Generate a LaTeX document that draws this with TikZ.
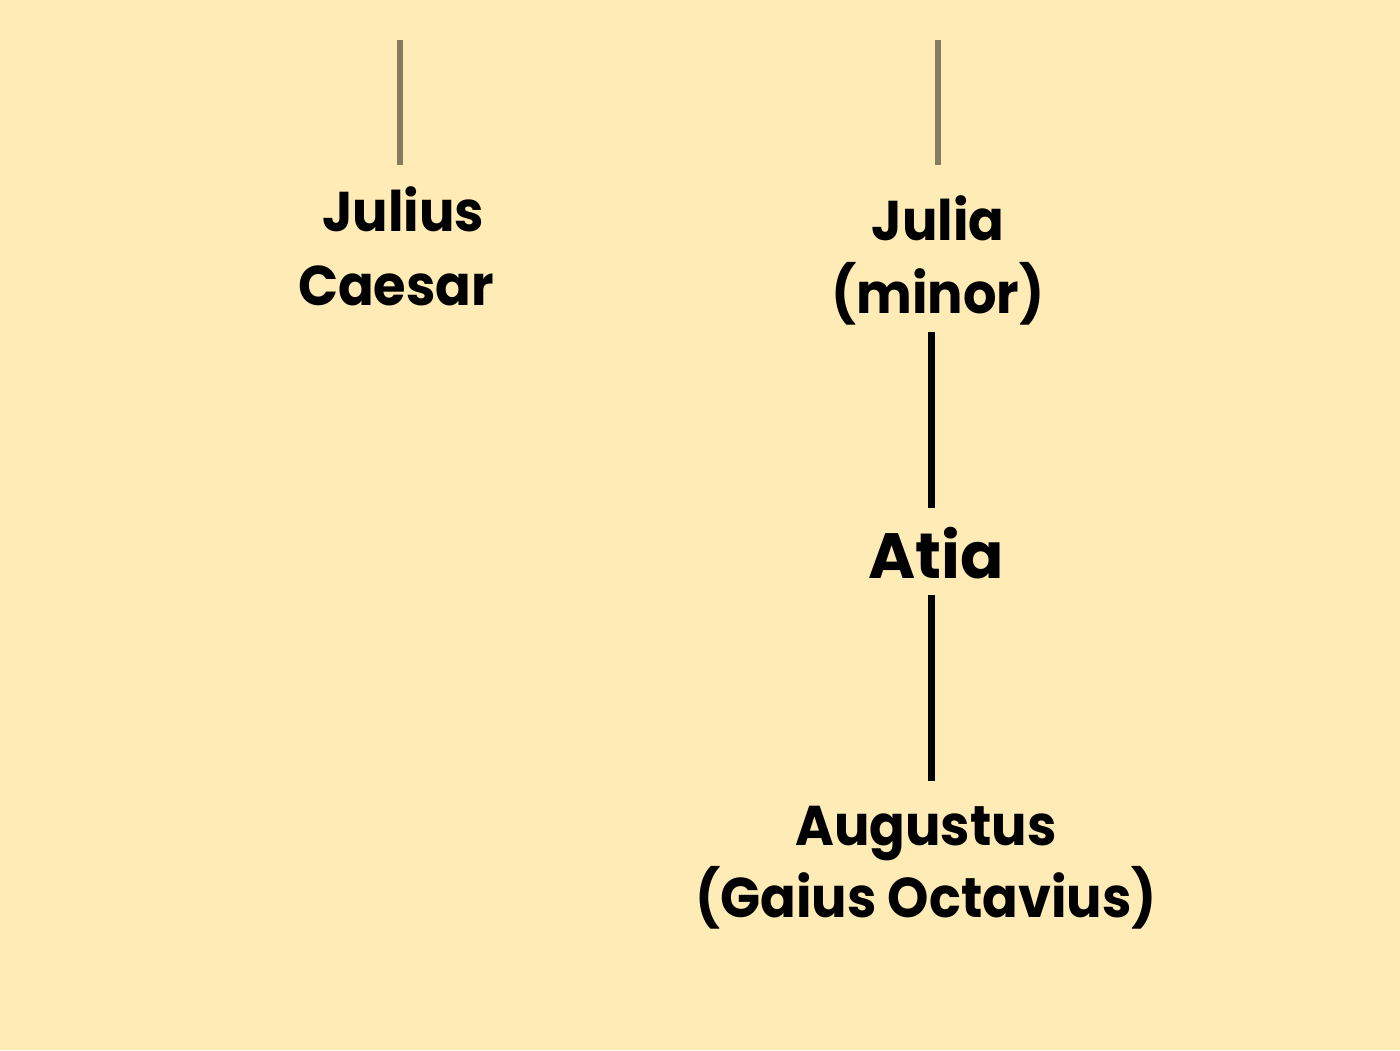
\documentclass[tikz,border=0pt]{standalone}
\usepackage{fontspec}
\setmainfont{Poppins}[UprightFont=* SemiBold,BoldFont=* Bold]
\definecolor{bg}{HTML}{FEEBB5}
\definecolor{topline}{HTML}{857B5E}
\begin{document}
\begin{tikzpicture}[x=1pt,y=-1pt,
  person/.style={font=\fontsize{56}{70}\selectfont\bfseries, inner sep=0pt, anchor=base, xscale=0.94, transform shape},
  bigperson/.style={font=\fontsize{64}{70}\selectfont\bfseries, inner sep=0pt, anchor=base},
  upline/.style={draw=topline, line width=6pt},
  kin/.style={draw=black, line width=7pt}]
\fill[bg] (0,0) rectangle (1400,1050);
\useasboundingbox (0,0) rectangle (1400,1050);
% names
\node[person] (jc1) at (403,231) {Julius};
\node[person] (jc2) at (396,305) {Caesar};
\node[person] (jm1) at (938,240) {Julia};
\node[person] (jm2) at (938,313) {(minor)};
\node[bigperson] (atia) at (936,578) {Atia};
\node[person] (au1) at (926,845) {Augustus};
\node[person] (au2) at (926,917) {(Gaius Octavius)};
% free ends
\coordinate (jctop) at (400,40);
\coordinate (jcbot) at (400,165);
\coordinate (jmtop) at (938,40);
\coordinate (jmbot) at (938,165);
\coordinate (jmdown) at (931,332);
\coordinate (atiaup) at (931,508);
\coordinate (atiadown) at (931,595);
\coordinate (auup) at (931,781);
\draw[upline] (jctop) -- (jcbot);
\draw[upline] (jmtop) -- (jmbot);
\draw[kin] (jmdown) -- (atiaup);
\draw[kin] (atiadown) -- (auup);
\end{tikzpicture}
\end{document}
